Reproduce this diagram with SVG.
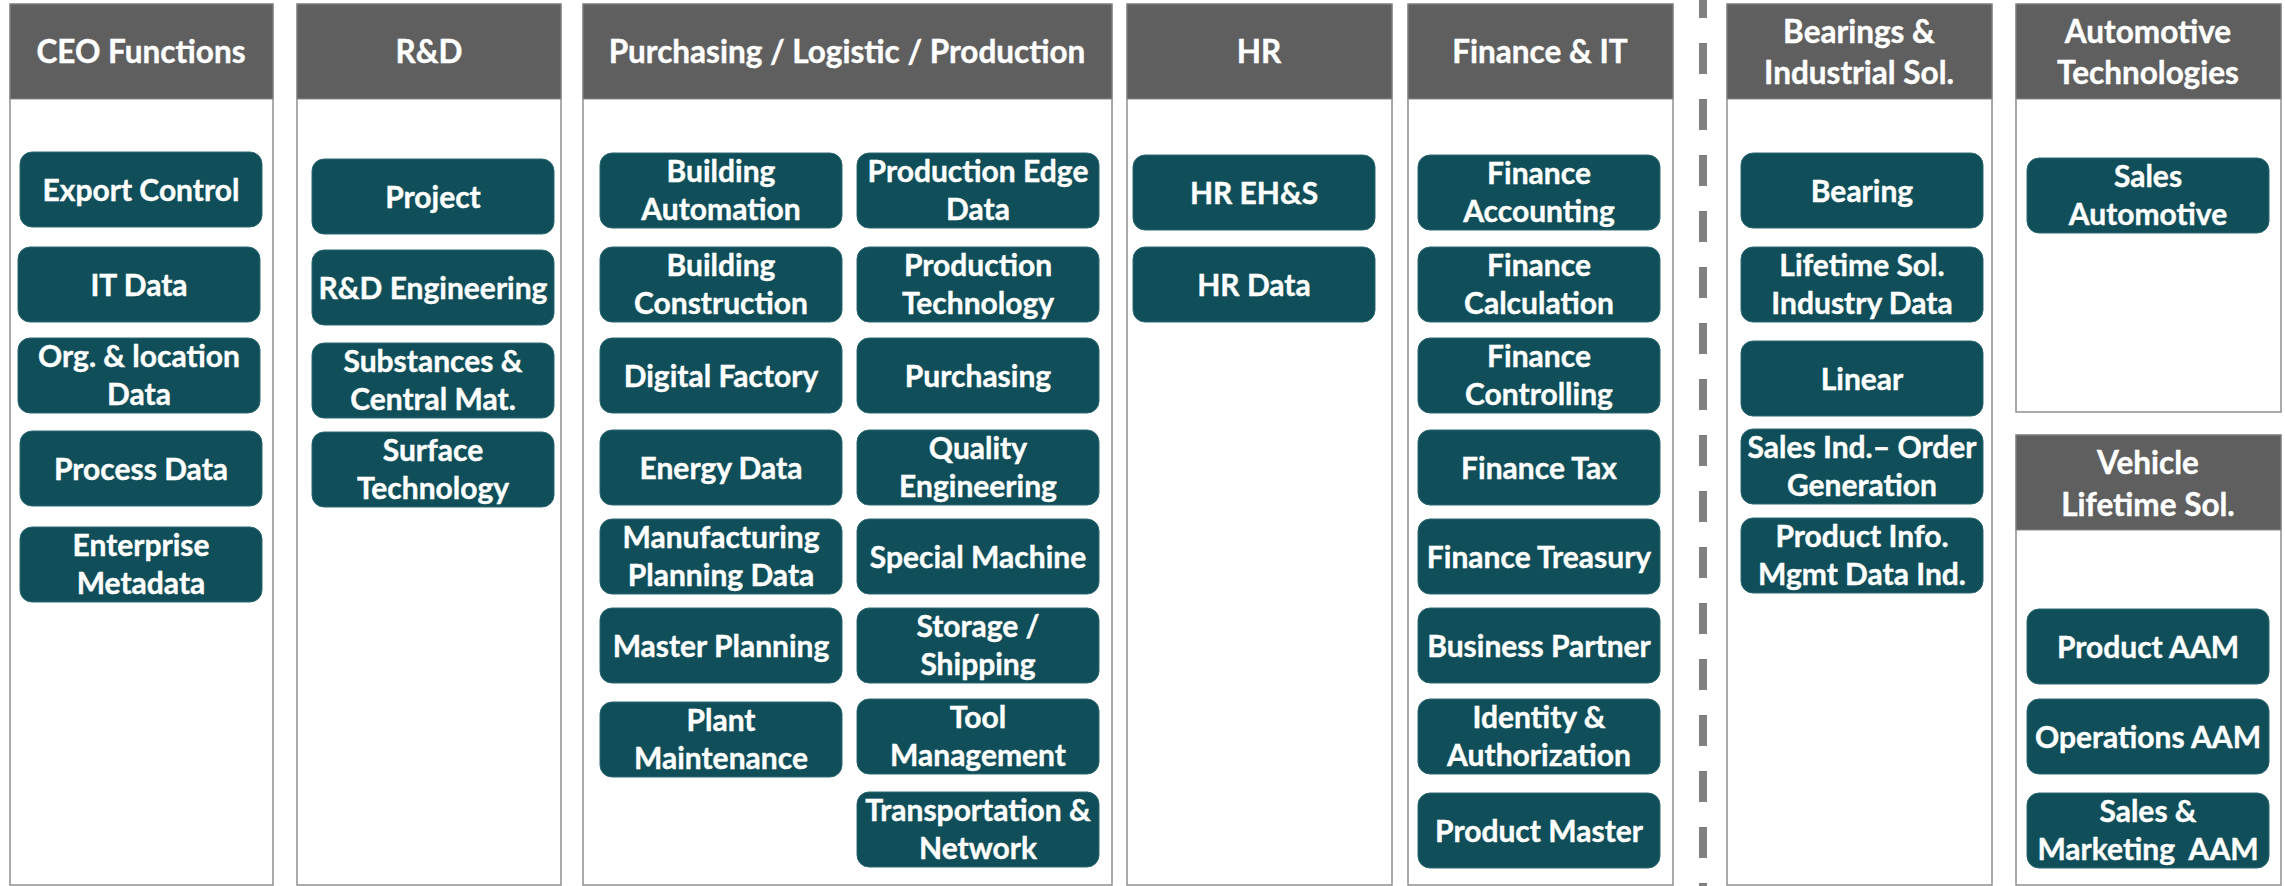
<svg xmlns="http://www.w3.org/2000/svg" width="2285" height="886" viewBox="0 0 2285 886">
<style>
.col{fill:#fff;stroke:#8f8f8f;stroke-width:1.5}
.hdr{fill:#5f5f5f;stroke:#8a8a8a;stroke-width:1}
.ht{font-family:Lato,"Liberation Sans",sans-serif;font-weight:700;font-size:31.5px;fill:#fff;stroke:#fff;stroke-width:0.4;text-anchor:middle}
.box{fill:#104f59;stroke:#2c6872;stroke-width:1}
.bt{font-family:Lato,"Liberation Sans",sans-serif;font-weight:700;font-size:30px;fill:#fff;stroke:#fff;stroke-width:0.4;text-anchor:middle}
</style>
<rect x="0" y="0" width="2285" height="886" fill="#fff"/>
<g id="connectors">
<line x1="1703" y1="0" x2="1703" y2="886" stroke="#808080" stroke-width="8" stroke-dasharray="31 25" stroke-dashoffset="13"/>
</g>
<!-- Columns -->
<g id="col-ceo"><rect class="col" x="10" y="4" width="263" height="881"/><rect class="hdr" x="10" y="4" width="263" height="95"/><text class="ht" x="141" y="63">CEO Functions</text></g>
<g id="col-rd"><rect class="col" x="297" y="4" width="264" height="881"/><rect class="hdr" x="297" y="4" width="264" height="95"/><text class="ht" x="429" y="63">R&amp;D</text></g>
<g id="col-plp"><rect class="col" x="583" y="4" width="529" height="881"/><rect class="hdr" x="583" y="4" width="529" height="95"/><text class="ht" x="847" y="63">Purchasing / Logistic / Production</text></g>
<g id="col-hr"><rect class="col" x="1127" y="4" width="265" height="881"/><rect class="hdr" x="1127" y="4" width="265" height="95"/><text class="ht" x="1259" y="63">HR</text></g>
<g id="col-fin"><rect class="col" x="1408" y="4" width="265" height="881"/><rect class="hdr" x="1408" y="4" width="265" height="95"/><text class="ht" x="1540" y="63">Finance &amp; IT</text></g>
<g id="col-bis"><rect class="col" x="1727" y="4" width="265" height="881"/><rect class="hdr" x="1727" y="4" width="265" height="95"/><text class="ht" x="1859" y="43">Bearings &amp;</text><text class="ht" x="1859" y="84">Industrial Sol.</text></g>
<g id="col-auto"><rect class="col" x="2016" y="4" width="265" height="408"/><rect class="hdr" x="2016" y="4" width="265" height="95"/><text class="ht" x="2148" y="43">Automotive</text><text class="ht" x="2148" y="84">Technologies</text></g>
<g id="col-vls"><rect class="col" x="2016" y="435" width="265" height="450"/><rect class="hdr" x="2016" y="435" width="265" height="95"/><text class="ht" x="2148" y="474">Vehicle</text><text class="ht" x="2148" y="516">Lifetime Sol.</text></g>
<!-- CEO nodes -->
<g id="n-export"><rect class="box" x="20" y="152" width="242" height="75" rx="12"/><text class="bt" x="141" y="201">Export Control</text></g>
<g id="n-itdata"><rect class="box" x="18" y="247" width="242" height="75" rx="12"/><text class="bt" x="139" y="296">IT Data</text></g>
<g id="n-org"><rect class="box" x="18" y="338" width="242" height="75" rx="12"/><text class="bt" x="139" y="367">Org. &amp; location</text><text class="bt" x="139" y="405">Data</text></g>
<g id="n-process"><rect class="box" x="20" y="431" width="242" height="75" rx="12"/><text class="bt" x="141" y="480">Process Data</text></g>
<g id="n-enterprise"><rect class="box" x="20" y="527" width="242" height="75" rx="12"/><text class="bt" x="141" y="556">Enterprise</text><text class="bt" x="141" y="594">Metadata</text></g>
<!-- R&D nodes -->
<g id="n-project"><rect class="box" x="312" y="159" width="242" height="75" rx="12"/><text class="bt" x="433" y="208">Project</text></g>
<g id="n-rdeng"><rect class="box" x="312" y="250" width="242" height="75" rx="12"/><text class="bt" x="433" y="299">R&amp;D Engineering</text></g>
<g id="n-subst"><rect class="box" x="312" y="343" width="242" height="75" rx="12"/><text class="bt" x="433" y="372">Substances &amp;</text><text class="bt" x="433" y="410">Central Mat.</text></g>
<g id="n-surface"><rect class="box" x="312" y="432" width="242" height="75" rx="12"/><text class="bt" x="433" y="461">Surface</text><text class="bt" x="433" y="499">Technology</text></g>
<!-- Purchasing / Logistic / Production nodes, left -->
<g id="n-bauto"><rect class="box" x="600" y="153" width="242" height="75" rx="12"/><text class="bt" x="721" y="182">Building</text><text class="bt" x="721" y="220">Automation</text></g>
<g id="n-bcons"><rect class="box" x="600" y="247" width="242" height="75" rx="12"/><text class="bt" x="721" y="276">Building</text><text class="bt" x="721" y="314">Construction</text></g>
<g id="n-digfac"><rect class="box" x="600" y="338" width="242" height="75" rx="12"/><text class="bt" x="721" y="387">Digital Factory</text></g>
<g id="n-energy"><rect class="box" x="600" y="430" width="242" height="75" rx="12"/><text class="bt" x="721" y="479">Energy Data</text></g>
<g id="n-mfgplan"><rect class="box" x="600" y="519" width="242" height="75" rx="12"/><text class="bt" x="721" y="548">Manufacturing</text><text class="bt" x="721" y="586">Planning Data</text></g>
<g id="n-master"><rect class="box" x="600" y="608" width="242" height="75" rx="12"/><text class="bt" x="721" y="657">Master Planning</text></g>
<g id="n-plant"><rect class="box" x="600" y="702" width="242" height="75" rx="12"/><text class="bt" x="721" y="731">Plant</text><text class="bt" x="721" y="769">Maintenance</text></g>
<!-- right -->
<g id="n-prodedge"><rect class="box" x="857" y="153" width="242" height="75" rx="12"/><text class="bt" x="978" y="182">Production Edge</text><text class="bt" x="978" y="220">Data</text></g>
<g id="n-prodtech"><rect class="box" x="857" y="247" width="242" height="75" rx="12"/><text class="bt" x="978" y="276">Production</text><text class="bt" x="978" y="314">Technology</text></g>
<g id="n-purch"><rect class="box" x="857" y="338" width="242" height="75" rx="12"/><text class="bt" x="978" y="387">Purchasing</text></g>
<g id="n-quality"><rect class="box" x="857" y="430" width="242" height="75" rx="12"/><text class="bt" x="978" y="459">Quality</text><text class="bt" x="978" y="497">Engineering</text></g>
<g id="n-special"><rect class="box" x="857" y="519" width="242" height="75" rx="12"/><text class="bt" x="978" y="568">Special Machine</text></g>
<g id="n-storage"><rect class="box" x="857" y="608" width="242" height="75" rx="12"/><text class="bt" x="978" y="637">Storage /</text><text class="bt" x="978" y="675">Shipping</text></g>
<g id="n-tool"><rect class="box" x="857" y="699" width="242" height="75" rx="12"/><text class="bt" x="978" y="728">Tool</text><text class="bt" x="978" y="766">Management</text></g>
<g id="n-transport"><rect class="box" x="857" y="792" width="242" height="75" rx="12"/><text class="bt" x="978" y="821">Transportation &amp;</text><text class="bt" x="978" y="859">Network</text></g>
<!-- HR nodes -->
<g id="n-hrehs"><rect class="box" x="1133" y="155" width="242" height="75" rx="12"/><text class="bt" x="1254" y="204">HR EH&amp;S</text></g>
<g id="n-hrdata"><rect class="box" x="1133" y="247" width="242" height="75" rx="12"/><text class="bt" x="1254" y="296">HR Data</text></g>
<!-- Finance nodes -->
<g id="n-finacc"><rect class="box" x="1418" y="155" width="242" height="75" rx="12"/><text class="bt" x="1539" y="184">Finance</text><text class="bt" x="1539" y="222">Accounting</text></g>
<g id="n-fincalc"><rect class="box" x="1418" y="247" width="242" height="75" rx="12"/><text class="bt" x="1539" y="276">Finance</text><text class="bt" x="1539" y="314">Calculation</text></g>
<g id="n-finctrl"><rect class="box" x="1418" y="338" width="242" height="75" rx="12"/><text class="bt" x="1539" y="367">Finance</text><text class="bt" x="1539" y="405">Controlling</text></g>
<g id="n-fintax"><rect class="box" x="1418" y="430" width="242" height="75" rx="12"/><text class="bt" x="1539" y="479">Finance Tax</text></g>
<g id="n-fintreas"><rect class="box" x="1418" y="519" width="242" height="75" rx="12"/><text class="bt" x="1539" y="568">Finance Treasury</text></g>
<g id="n-bp"><rect class="box" x="1418" y="608" width="242" height="75" rx="12"/><text class="bt" x="1539" y="657">Business Partner</text></g>
<g id="n-identity"><rect class="box" x="1418" y="699" width="242" height="75" rx="12"/><text class="bt" x="1539" y="728">Identity &amp;</text><text class="bt" x="1539" y="766">Authorization</text></g>
<g id="n-prodmaster"><rect class="box" x="1418" y="793" width="242" height="75" rx="12"/><text class="bt" x="1539" y="842">Product Master</text></g>
<!-- Bearings nodes -->
<g id="n-bearing"><rect class="box" x="1741" y="153" width="242" height="75" rx="12"/><text class="bt" x="1862" y="202">Bearing</text></g>
<g id="n-lifetime"><rect class="box" x="1741" y="247" width="242" height="75" rx="12"/><text class="bt" x="1862" y="276">Lifetime Sol.</text><text class="bt" x="1862" y="314">Industry Data</text></g>
<g id="n-linear"><rect class="box" x="1741" y="341" width="242" height="75" rx="12"/><text class="bt" x="1862" y="390">Linear</text></g>
<g id="n-salesind"><rect class="box" x="1741" y="429" width="242" height="75" rx="12"/><text class="bt" x="1862" y="458">Sales Ind.– Order</text><text class="bt" x="1862" y="496">Generation</text></g>
<g id="n-pim"><rect class="box" x="1741" y="518" width="242" height="75" rx="12"/><text class="bt" x="1862" y="547">Product Info.</text><text class="bt" x="1862" y="585">Mgmt Data Ind.</text></g>
<!-- Automotive nodes -->
<g id="n-salesauto"><rect class="box" x="2027" y="158" width="242" height="75" rx="12"/><text class="bt" x="2148" y="187">Sales</text><text class="bt" x="2148" y="225">Automotive</text></g>
<!-- Vehicle Lifetime nodes -->
<g id="n-prodaam"><rect class="box" x="2027" y="609" width="242" height="75" rx="12"/><text class="bt" x="2148" y="658">Product AAM</text></g>
<g id="n-opsaam"><rect class="box" x="2027" y="699" width="242" height="75" rx="12"/><text class="bt" x="2148" y="748">Operations AAM</text></g>
<g id="n-salesaam"><rect class="box" x="2027" y="793" width="242" height="75" rx="12"/><text class="bt" x="2148" y="822">Sales &amp;</text><text class="bt" x="2148" y="860" style="white-space:pre">Marketing  AAM</text></g>
</svg>
